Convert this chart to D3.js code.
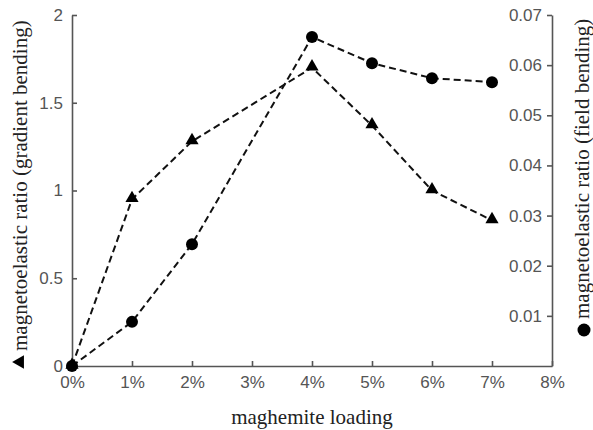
<!DOCTYPE html>
<html>
<head>
<meta charset="utf-8">
<script src="https://cdn.jsdelivr.net/npm/d3@7"></script>
</head>
<body style="margin:0; background:#fff;">
<div class="chart"></div>
<script>
// data
var loading = [0, 1, 2, 4, 5, 6, 7];               // maghemite loading (%)
var gradientRatio = [0, 0.95, 1.28, 1.70, 1.37, 1.00, 0.83];   // left axis, triangles
var fieldRatio = [0, 0.0088, 0.0243, 0.0656, 0.0604, 0.0574, 0.0566]; // right axis, circles
var xTicks = [0, 1, 2, 3, 4, 5, 6, 7, 8];
var leftTicks = [0, 0.5, 1, 1.5, 2];
var rightTicks = [0.01, 0.02, 0.03, 0.04, 0.05, 0.06, 0.07];

var svgWidth = 593, svgHeight = 430;
var margin = { top: 15, bottom: 64, left: 72, right: 41 };
var width = svgWidth - margin.left - margin.right;
var height = svgHeight - margin.top - margin.bottom;

var serif = "'Liberation Serif', 'DejaVu Serif', serif";
var sans = "'Liberation Sans', Arial, sans-serif";

var svg = d3.select(".chart")
    .append("svg")
    .attr("width", svgWidth)
    .attr("height", svgHeight);

var chartGroup = svg.append("g")
    .attr("transform", `translate(${margin.left}, ${margin.top})`);

var xScale = d3.scaleLinear().domain([0, 8]).range([0, width]);
var yLeft = d3.scaleLinear().domain([0, 2]).range([height, 0]);
var yRight = d3.scaleLinear().domain([0, 0.07]).range([height, 0]);

// axes, ticks point inward like matlab
var bottomAxis = d3.axisBottom(xScale).tickValues(xTicks)
    .tickFormat(d => d + "%").tickSizeInner(-5).tickSizeOuter(0).tickPadding(10);
var leftAxis = d3.axisLeft(yLeft).tickValues(leftTicks)
    .tickFormat(d => d).tickSizeInner(-5).tickSizeOuter(0).tickPadding(9);
// right axis keeps its labels inside the plot
var rightAxis = d3.axisLeft(yRight).tickValues(rightTicks)
    .tickFormat(d3.format(".2f")).tickSizeInner(5).tickSizeOuter(0).tickPadding(5);

function styleAxis(g) {
    g.attr("font-family", sans).attr("font-size", 17);
    g.select(".domain").attr("stroke", "#555").attr("stroke-width", 1.6);
    g.selectAll(".tick line").attr("stroke", "#555").attr("stroke-width", 1.6);
    g.selectAll(".tick text").attr("fill", "#555");
}

chartGroup.append("g")
    .attr("transform", `translate(0, ${height})`)
    .call(bottomAxis)
    .call(styleAxis);

chartGroup.append("g")
    .call(leftAxis)
    .call(styleAxis);

chartGroup.append("g")
    .attr("transform", `translate(${width}, 0)`)
    .call(rightAxis)
    .call(styleAxis);

// dashed lines
var triLine = d3.line()
    .x((d, i) => xScale(loading[i]))
    .y(d => yLeft(d));
var dotLine = d3.line()
    .x((d, i) => xScale(loading[i]))
    .y(d => yRight(d));

chartGroup.append("path")
    .datum(gradientRatio)
    .attr("d", triLine)
    .attr("fill", "none")
    .attr("stroke", "#111")
    .attr("stroke-width", 2)
    .attr("stroke-dasharray", "7,4");

chartGroup.append("path")
    .datum(fieldRatio)
    .attr("d", dotLine)
    .attr("fill", "none")
    .attr("stroke", "#111")
    .attr("stroke-width", 2)
    .attr("stroke-dasharray", "7,4");

// markers
var triangle = d3.symbol().type(d3.symbolTriangle).size(75);
chartGroup.selectAll(".tri")
    .data(gradientRatio)
    .enter()
    .append("path")
    .attr("class", "tri")
    .attr("d", triangle)
    .attr("transform", (d, i) => `translate(${xScale(loading[i])}, ${yLeft(d) - 1})`)
    .attr("fill", "#000");

chartGroup.selectAll(".dot")
    .data(fieldRatio)
    .enter()
    .append("circle")
    .attr("class", "dot")
    .attr("cx", (d, i) => xScale(loading[i]))
    .attr("cy", d => yRight(d))
    .attr("r", 6)
    .attr("fill", "#000");

// axis titles
function titleText(sel, size) {
    sel.attr("font-family", serif)
        .attr("font-size", size)
        .attr("fill", "#222");
}

svg.append("text")
    .call(titleText, 21)
    .attr("text-anchor", "middle")
    .attr("x", margin.left + width / 2)
    .attr("y", 424)
    .text("maghemite loading");

// rotated y titles with their marker drawn in front
var leftTitle = svg.append("g")
    .attr("transform", "translate(27, 0) rotate(-90)");
leftTitle.append("path")
    .attr("d", d3.symbol().type(d3.symbolTriangle).size(80))
    .attr("transform", "translate(-362, -7)")
    .attr("fill", "#000");
leftTitle.append("text")
    .call(titleText, 21)
    .attr("x", -351)
    .text("magnetoelastic ratio (gradient bending)");

var rightTitle = svg.append("g")
    .attr("transform", "translate(589, 0) rotate(-90)");
rightTitle.append("circle")
    .attr("cx", -330)
    .attr("cy", -5)
    .attr("r", 6.5)
    .attr("fill", "#000");
rightTitle.append("text")
    .call(titleText, 21)
    .attr("x", -319)
    .text("magnetoelastic ratio (field bending)");
</script>
</body>
</html>
